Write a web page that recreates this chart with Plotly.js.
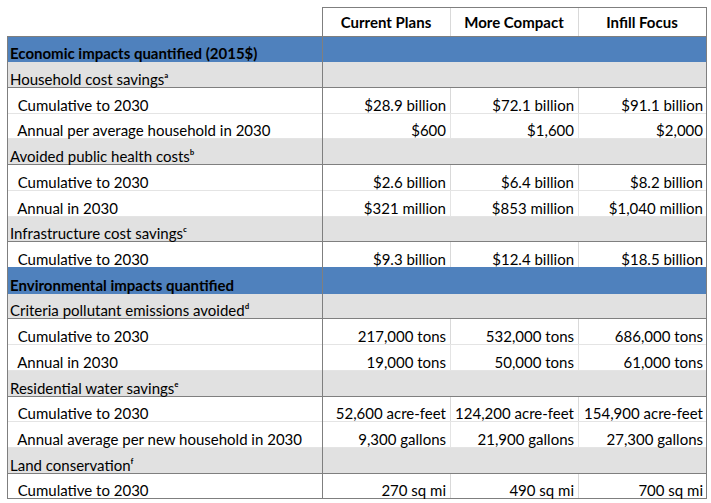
<!DOCTYPE html>
<html>
<head>
<meta charset="utf-8">
<script src="https://cdn.plot.ly/plotly-3.0.1.min.js"></script>
<style>html,body{margin:0;padding:0;background:#fff;}</style>
</head>
<body>
<div id="chart" style="width:711px;height:503px;"></div>
<script>
// ---------- data ----------
const scenarios = ['Current Plans', 'More Compact', 'Infill Focus'];
const rowLabels = [
  'Economic impacts quantified (2015$)',
  'Household cost savings',
  'Cumulative to 2030',
  'Annual per average household in 2030',
  'Avoided public health costs',
  'Cumulative to 2030',
  'Annual in 2030',
  'Infrastructure cost savings',
  'Cumulative to 2030',
  'Environmental impacts quantified',
  'Criteria pollutant emissions avoided',
  'Cumulative to 2030',
  'Annual in 2030',
  'Residential water savings',
  'Cumulative to 2030',
  'Annual average per new household in 2030',
  'Land conservation',
  'Cumulative to 2030'
];
const rowKinds = ['section','category','data','data','category','data','data','category','data',
                  'section','category','data','data','category','data','data','category','data'];
const footnotes = ['', 'a', '', '', 'b', '', '', 'c', '', '', 'd', '', '', 'e', '', '', 'f', ''];
const currentPlans = ['', '', '$28.9 billion', '$600', '', '$2.6 billion', '$321 million', '', '$9.3 billion',
  '', '', '217,000 tons', '19,000 tons', '', '52,600 acre-feet', '9,300 gallons', '', '270 sq mi'];
const moreCompact = ['', '', '$72.1 billion', '$1,600', '', '$6.4 billion', '$853 million', '', '$12.4 billion',
  '', '', '532,000 tons', '50,000 tons', '', '124,200 acre-feet', '21,900 gallons', '', '490 sq mi'];
const infillFocus = ['', '', '$91.1 billion', '$2,000', '', '$8.2 billion', '$1,040 million', '', '$18.5 billion',
  '', '', '686,000 tons', '61,000 tons', '', '154,900 acre-feet', '27,300 gallons', '', '700 sq mi'];

// ---------- styling ----------
const W = 711, H = 503;
const FONT = 'Lato, "Open Sans", sans-serif';
const FS = 15;
const BLUE = '#4f81bd', GRAY = '#e1e1e1', DARK = '#7f7f7f', LIGHT = '#d9d9d9', NONE = 'rgba(0,0,0,0)';
const tableTop = 7, headH = 29, rowH = 25.72;
const bodyTextShift = 4, headTextShift = 2;
const colEdges = [7, 322, 450, 578, 706];
const supMap = {a: '\u1d43', b: '\u1d47', c: '\u1d9c', d: '\u1d48', e: '\u1d49', f: '\u1da0'};
const nb = s => s.replace(/ /g, '\u00a0');
const n = rowLabels.length;
const yDom = [0, 1 - tableTop / H];
const widths = e => e.slice(1).map((v, i) => v - e[i]);

const fillFor = k => k === 'section' ? BLUE : (k === 'category' ? GRAY : '#ffffff');
const rowFill = rowKinds.map(fillFor);
const lineA = rowKinds.map(k => k === 'section' ? BLUE : (k === 'category' ? GRAY : LIGHT));
const empty = c => Array.from({length: c}, () => Array(n).fill(''));

// A: fills + light grid
const traceA = {
  type: 'table',
  domain: {x: [colEdges[0] / W, colEdges[4] / W], y: yDom},
  columnwidth: widths(colEdges),
  header: {
    values: ['', '', '', ''], height: headH,
    fill: {color: '#ffffff'},
    line: {color: ['#ffffff', LIGHT, LIGHT, LIGHT], width: 1}
  },
  cells: {
    values: empty(4), height: rowH,
    fill: {color: [rowFill, rowFill, rowFill, rowFill]},
    line: {color: [lineA, lineA, lineA, lineA], width: 1}
  }
};

// B: dark lines around category rows
const lineB = rowKinds.map(k => k === 'category' ? DARK : NONE);
const traceB = {
  type: 'table',
  domain: {x: [colEdges[0] / W, colEdges[4] / W], y: yDom},
  columnwidth: [colEdges[1] - colEdges[0], colEdges[4] - colEdges[1]],
  header: {values: ['', ''], height: headH, fill: {color: NONE}, line: {color: NONE, width: 1}},
  cells: {values: empty(2), height: rowH, fill: {color: NONE}, line: {color: [lineB, lineB], width: 1}}
};

// C: restore the lines above category rows
const lineC = rowKinds.map((k, i) => {
  const next = rowKinds[i + 1];
  if (next !== 'category') return NONE;
  return k === 'section' ? BLUE : '#e4e4e4';
});
const traceC = {
  type: 'table',
  domain: {x: [colEdges[0] / W, colEdges[4] / W], y: yDom},
  columnwidth: widths(colEdges),
  header: {values: ['', '', '', ''], height: headH, fill: {color: NONE}, line: {color: NONE, width: 1}},
  cells: {values: empty(4), height: rowH, fill: {color: NONE}, line: {color: [lineC, lineC, lineC, lineC], width: 1}}
};

// D: outer frame
const traceD = {
  type: 'table',
  domain: {x: [colEdges[0] / W, colEdges[4] / W], y: yDom},
  columnwidth: [colEdges[1] - colEdges[0], colEdges[4] - colEdges[1]],
  header: {values: ['', ''], height: headH, fill: {color: NONE}, line: {color: [NONE, DARK], width: 1}},
  cells: {values: [[''], ['']], height: rowH * n, fill: {color: NONE}, line: {color: DARK, width: 1}}
};

// E: body text
const labelText = rowLabels.map((l, i) => {
  let t = nb(l);
  if (rowKinds[i] === 'data') t = '\u00a0\u00a0' + t;
  if (footnotes[i]) t += supMap[footnotes[i]];
  return t;
});
const labelWeight = rowKinds.map(k => k === 'section' ? 700 : 400);
const textEdges = [2, 326, 454, 582, 711];
const traceE = {
  type: 'table',
  domain: {x: [textEdges[0] / W, textEdges[4] / W], y: yDom},
  columnwidth: widths(textEdges),
  header: {values: ['', '', '', ''], height: headH + bodyTextShift, fill: {color: NONE}, line: {color: NONE, width: 1}},
  cells: {
    values: [labelText, currentPlans.map(nb), moreCompact.map(nb), infillFocus.map(nb)],
    align: ['left', 'right', 'right', 'right'],
    height: rowH,
    fill: {color: NONE}, line: {color: NONE, width: 1},
    font: {family: FONT, size: FS, color: '#000', weight: [labelWeight, 400, 400, 400]}
  }
};

// F: header text
const traceF = {
  type: 'table',
  domain: {x: [colEdges[0] / W, colEdges[4] / W], y: [0, 1 - (tableTop + headTextShift) / H]},
  columnwidth: widths(colEdges),
  header: {
    values: [''].concat(scenarios.map(nb)),
    align: 'center', height: headH,
    fill: {color: NONE}, line: {color: NONE, width: 1},
    font: {family: FONT, size: FS, color: '#000', weight: 700}
  },
  cells: {values: [[''], [''], [''], ['']], height: rowH, fill: {color: NONE}, line: {color: NONE, width: 1}}
};

Plotly.newPlot('chart', [traceA, traceB, traceC, traceD, traceE, traceF], {
  width: W, height: H,
  margin: {l: 0, r: 0, t: 0, b: 0},
  paper_bgcolor: '#ffffff',
  showlegend: false
}, {staticPlot: true, displayModeBar: false});
</script>
</body>
</html>
